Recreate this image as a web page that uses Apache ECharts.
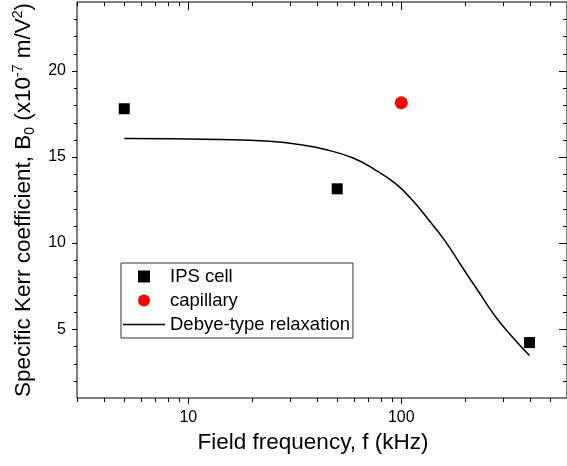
<!DOCTYPE html>
<html><head><meta charset="utf-8">
<script src="https://cdn.jsdelivr.net/npm/echarts@6/dist/echarts.min.js"></script>
<style>html,body{margin:0;padding:0;background:#fff}#c{width:567px;height:466px}</style>
</head><body><div id="c"></div>
<script>
// ---- data ----
const ipsFreq = [5, 50, 400];
const ipsB = [17.8, 13.15, 4.22];
const capFreq = [100];
const capB = [18.15];
const debyeFreq = [5, 14, 24, 33, 44, 59, 75, 94, 112, 134, 161, 192, 230, 276, 330, 400];
const debyeB = [16.07, 16.01, 15.91, 15.72, 15.43, 14.95, 14.27, 13.45, 12.53, 11.37, 10.10, 8.65, 7.20, 5.75, 4.59, 3.47];
const xMajorTicks = [10, 100];
const xMinorTicks = [3, 4, 5, 6, 7, 8, 9, 20, 30, 40, 50, 60, 70, 80, 90, 200, 300, 400, 500];
const yMajorTicks = [5, 10, 15, 20];
const yMinorTicks = [2, 3, 4, 6, 7, 8, 9, 11, 12, 13, 14, 16, 17, 18, 19, 21, 22, 23];
const yTickLabels = ['5', '10', '15', '20'];
const seriesNames = ['IPS cell', 'capillary', 'Debye-type relaxation'];

const X_MIN = 3, X_MAX = 600, Y_MIN = 1, Y_MAX = 24;
const FONT = "'Liberation Sans', Arial, sans-serif";

const tickItems = [];
xMajorTicks.forEach(v => tickItems.push({ a: 'x', v: v, m: true }));
xMinorTicks.forEach(v => tickItems.push({ a: 'x', v: v, m: false }));
yMajorTicks.forEach(v => tickItems.push({ a: 'y', v: v, m: true }));
yMinorTicks.forEach(v => tickItems.push({ a: 'y', v: v, m: false }));

const chart = echarts.init(document.getElementById('c'), null, { renderer: 'canvas' });
const px = v => Math.round(v) + 0.5;

chart.setOption({
  animation: false,
  backgroundColor: '#fff',
  textStyle: { fontFamily: FONT, color: '#000' },
  grid: { left: 77, right: -1, top: 2, bottom: 68, show: true, borderColor: '#000', borderWidth: 1, backgroundColor: 'transparent' },
  xAxis: {
    type: 'log', logBase: 10, min: X_MIN, max: X_MAX,
    axisLine: { show: false }, axisTick: { show: false }, splitLine: { show: false },
    axisLabel: { showMinLabel: false, showMaxLabel: false, fontSize: 16, color: '#000', fontFamily: FONT, margin: 12 },
    name: 'Field frequency, f (kHz)', nameLocation: 'middle', nameGap: 27,
    nameTextStyle: { fontSize: 22.5, color: '#000', fontFamily: FONT, padding: [0, 18, 0, 0] }
  },
  yAxis: {
    type: 'value', min: Y_MIN, max: Y_MAX, interval: 1,
    axisLine: { show: false }, axisTick: { show: false }, splitLine: { show: false },
    axisLabel: {
      fontSize: 16, color: '#000', fontFamily: FONT, margin: 11,
      formatter: v => { const i = yMajorTicks.indexOf(v); return i >= 0 ? yTickLabels[i] : ''; }
    },
    name: '{m|Specific Kerr coefficient, B}{sub|0}{m| (x10}{sup|-7}{m| m/V}{sup|2}{m|)}',
    nameLocation: 'middle', nameRotate: 90, nameGap: 40,
    nameTextStyle: {
      fontSize: 22.5, color: '#000', fontFamily: FONT,
      rich: {
        m: { fontSize: 22.5, lineHeight: 26, verticalAlign: 'middle', fontFamily: FONT, color: '#000' },
        sub: { fontSize: 14, lineHeight: 14, verticalAlign: 'bottom', fontFamily: FONT, color: '#000' },
        sup: { fontSize: 14, lineHeight: 14, verticalAlign: 'top', fontFamily: FONT, color: '#000' }
      }
    }
  },
  legend: {
    orient: 'vertical', left: 121, top: 263, padding: [4, 3, 4, 2], itemGap: 5,
    itemWidth: 42, itemHeight: 12, borderColor: '#333', borderWidth: 1, backgroundColor: '#fff',
    selectedMode: false, symbolKeepAspect: true,
    textStyle: { fontSize: 18.5, lineHeight: 18, color: '#000', fontFamily: FONT },
    data: [
      { name: seriesNames[0], icon: 'path://M0,0H11V11H0Z', itemStyle: { color: '#000', opacity: 1 } },
      { name: seriesNames[1], icon: 'circle', itemStyle: { color: '#ff0000', opacity: 1 } },
      { name: seriesNames[2], icon: 'path://M0,0H42V1.5H0Z', itemStyle: { color: '#000', opacity: 1 } }
    ]
  },
  series: [
    {
      type: 'custom', silent: true, clip: false, z: 5,
      data: tickItems.map(t => t.a === 'x' ? [t.v, Y_MIN] : [X_MIN, t.v]),
      renderItem: function (params, api) {
        const t = tickItems[params.dataIndex];
        const st = { stroke: '#000', lineWidth: 1 };
        const ch = [];
        if (t.a === 'x') {
          const b = api.coord([t.v, Y_MIN]);
          const tp = api.coord([t.v, Y_MAX]);
          const x = px(b[0]);
          ch.push({ type: 'line', shape: { x1: x, y1: b[1], x2: x, y2: b[1] + (t.m ? 6 : 4) }, style: st });
          ch.push({ type: 'line', shape: { x1: x, y1: tp[1], x2: x, y2: tp[1] + (t.m ? 8 : 4) }, style: st });
        } else {
          const l = api.coord([X_MIN, t.v]);
          const r = api.coord([X_MAX, t.v]);
          const y = px(l[1]);
          ch.push({ type: 'line', shape: { x1: l[0] - (t.m ? 5 : 3), y1: y, x2: l[0], y2: y }, style: st });
          ch.push({ type: 'line', shape: { x1: r[0] - (t.m ? 8 : 4), y1: y, x2: r[0], y2: y }, style: st });
        }
        return { type: 'group', children: ch };
      }
    },
    {
      name: seriesNames[2], type: 'line', smooth: true, symbol: 'none', showSymbol: false,
      lineStyle: { color: '#000', width: 1.5 }, itemStyle: { color: '#000' },
      data: debyeFreq.map((f, i) => [f, debyeB[i]]), z: 3
    },
    {
      name: seriesNames[0], type: 'scatter', symbol: 'rect', symbolSize: 11,
      itemStyle: { color: '#000', opacity: 1 },
      data: ipsFreq.map((f, i) => [f, ipsB[i]]), z: 4
    },
    {
      name: seriesNames[1], type: 'scatter', symbol: 'circle', symbolSize: 13,
      itemStyle: { color: '#ff0000', opacity: 1 },
      data: capFreq.map((f, i) => [f, capB[i]]), z: 4
    }
  ]
});
</script>
</body></html>
